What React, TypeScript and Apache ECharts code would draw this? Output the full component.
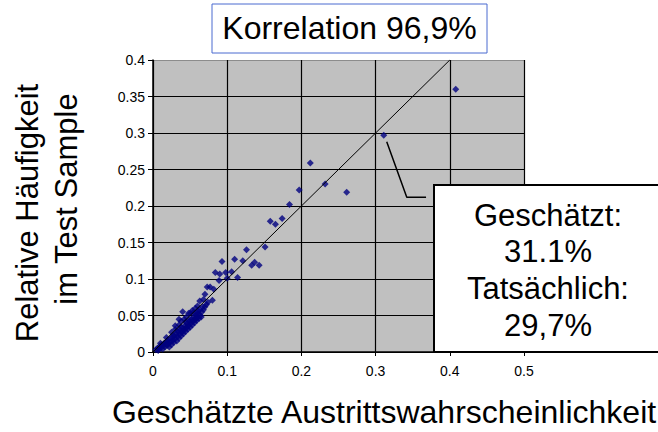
import React, { useEffect, useRef } from "react";
import * as echarts from "echarts";

const titleText = "Korrelation 96,9%";
const xAxisTitle = "Geschätzte Austrittswahrscheinlichkeit";
const yAxisTitleLines = ["Relative Häufigkeit", "im Test Sample"];
const annotationLines = ["Geschätzt:", "31.1%", "Tatsächlich:", "29,7%"];

const xTicks = { min: 0, max: 0.5, interval: 0.1 };
const yTicks = { min: 0, max: 0.4, interval: 0.05 };

// estimated vs. actual (x = geschätzt, y = tatsächlich)
const upperPoints: number[][] = [
  [0.408, 0.36], [0.311, 0.297], [0.212, 0.259], [0.197, 0.222], [0.232, 0.23],
  [0.261, 0.219], [0.184, 0.202], [0.174, 0.183], [0.158, 0.179], [0.165, 0.175],
  [0.151, 0.144], [0.126, 0.14], [0.143, 0.119], [0.137, 0.123], [0.133, 0.119],
  [0.121, 0.125], [0.11, 0.127], [0.093, 0.124], [0.114, 0.102], [0.106, 0.11],
  [0.1, 0.101], [0.098, 0.109], [0.09, 0.107], [0.084, 0.109], [0.089, 0.098],
  [0.077, 0.089], [0.073, 0.089], [0.082, 0.086], [0.07, 0.079], [0.08, 0.071],
  [0.063, 0.07], [0.068, 0.072], [0.06, 0.063], [0.057, 0.06], [0.063, 0.058],
  [0.059, 0.053], [0.04, 0.055], [0.048, 0.053], [0.054, 0.054],
];

const clusterPoints: number[][] = [
  [0.004, 0.003], [0.006, 0.005], [0.008, 0.004], [0.009, 0.008], [0.011, 0.006],
  [0.012, 0.01], [0.013, 0.004], [0.014, 0.009], [0.015, 0.012], [0.016, 0.007],
  [0.017, 0.011], [0.018, 0.014], [0.019, 0.009], [0.02, 0.016], [0.021, 0.012],
  [0.022, 0.007], [0.023, 0.018], [0.024, 0.014], [0.025, 0.01], [0.026, 0.02],
  [0.027, 0.016], [0.028, 0.013], [0.029, 0.022], [0.03, 0.018], [0.031, 0.025],
  [0.032, 0.015], [0.033, 0.021], [0.034, 0.027], [0.035, 0.019], [0.036, 0.024],
  [0.037, 0.03], [0.038, 0.022], [0.039, 0.027], [0.04, 0.033], [0.041, 0.025],
  [0.042, 0.03], [0.043, 0.036], [0.044, 0.028], [0.045, 0.033], [0.046, 0.039],
  [0.047, 0.031], [0.048, 0.036], [0.049, 0.042], [0.05, 0.034], [0.051, 0.039],
  [0.052, 0.045], [0.053, 0.037], [0.054, 0.042], [0.055, 0.048], [0.056, 0.04],
  [0.057, 0.045], [0.058, 0.05], [0.059, 0.043], [0.06, 0.047], [0.061, 0.052],
  [0.062, 0.046], [0.064, 0.05], [0.066, 0.055], [0.065, 0.048], [0.068, 0.058],
  [0.07, 0.062], [0.072, 0.065], [0.067, 0.062], [0.074, 0.068],
  [0.01, 0.012], [0.018, 0.02], [0.025, 0.027], [0.03, 0.031], [0.035, 0.037],
  [0.038, 0.042], [0.042, 0.045], [0.045, 0.048], [0.05, 0.053], [0.053, 0.057],
  [0.035, 0.045], [0.03, 0.036],
  [0.007, 0.002], [0.02, 0.011], [0.027, 0.023], [0.033, 0.029], [0.04, 0.029],
  [0.046, 0.035], [0.05, 0.044], [0.055, 0.044], [0.058, 0.047], [0.061, 0.056],
  [0.044, 0.041], [0.038, 0.034],
];

const diagonal: number[][] = [[0, 0], [0.4, 0.4]];
const leader: number[][] = [[0.315, 0.288], [0.342, 0.212], [0.368, 0.212]];

const FONT = "'Liberation Sans', Arial, Helvetica, sans-serif";

export default function App() {
  const ref = useRef<HTMLDivElement>(null);
  useEffect(() => {
    if (!ref.current) return;
    const chart = echarts.init(ref.current, undefined, { renderer: "svg" });
    const splitColors = ["#000", "#000", "#000", "#000", "#000", "#000", "#000", "#000", "#8c8c8c"];
    chart.setOption({
      animation: false,
      backgroundColor: "#ffffff",
      textStyle: { fontFamily: FONT },
      grid: {
        left: 153, top: 60, right: 134, bottom: 80,
        show: true, backgroundColor: "#c0c0c0", borderWidth: 0,
      },
      xAxis: {
        type: "value", min: xTicks.min, max: xTicks.max, interval: xTicks.interval,
        axisLine: { show: true, onZero: false, lineStyle: { color: "#000", width: 1.5 } },
        axisTick: { show: true, length: 4, lineStyle: { color: "#000" } },
        axisLabel: { color: "#000", fontSize: 14, margin: 12, fontFamily: FONT },
        splitLine: { show: true, lineStyle: { color: "#000", width: 1.2 } },
      },
      yAxis: {
        type: "value", min: yTicks.min, max: yTicks.max, interval: yTicks.interval,
        axisLine: { show: true, onZero: false, lineStyle: { color: "#000", width: 1.5 } },
        axisTick: { show: true, length: 5, lineStyle: { color: "#000" } },
        axisLabel: { color: "#000", fontSize: 14, margin: 8, fontFamily: FONT },
        splitLine: { show: true, lineStyle: { color: splitColors, width: 1.2 } },
      },
      series: [
        {
          type: "scatter", data: clusterPoints, symbol: "diamond", symbolSize: 7,
          itemStyle: { color: "#000080" }, z: 3,
        },
        {
          type: "scatter", data: upperPoints, symbol: "diamond", symbolSize: 7,
          itemStyle: { color: "#000080" }, z: 3,
        },
        {
          type: "line", data: diagonal, showSymbol: false, symbol: "none",
          lineStyle: { color: "#000", width: 1 }, z: 4,
        },
        {
          type: "line", data: leader, showSymbol: false, symbol: "none",
          lineStyle: { color: "#000", width: 1.5 }, z: 4,
        },
      ],
      graphic: [
        {
          type: "rect", z: 100, shape: { x: 212, y: 4, width: 275, height: 49 },
          style: { fill: "#fff", stroke: "#4a6ad0", lineWidth: 1 },
        },
        {
          type: "text", z: 101, x: 349.5, y: 28,
          style: { text: titleText, fontSize: 32, fontFamily: FONT, fill: "#000", textAlign: "center", textVerticalAlign: "middle" },
        },
        {
          type: "rect", z: 100, shape: { x: 434, y: 185, width: 240, height: 167 },
          style: { fill: "#fff", stroke: "#000", lineWidth: 2 },
        },
        ...annotationLines.map((t, i) => ({
          type: "text", z: 101, x: 548, y: 215 + i * 36.7,
          style: { text: t, fontSize: 31, fontFamily: FONT, fill: "#000", textAlign: "center", textVerticalAlign: "middle" },
        })),
        {
          type: "text", z: 101, x: 384, y: 412,
          style: { text: xAxisTitle, fontSize: 32, fontFamily: FONT, fill: "#000", textAlign: "center", textVerticalAlign: "middle" },
        },
        {
          type: "text", z: 101, x: 27, y: 213, rotation: Math.PI / 2,
          style: { text: yAxisTitleLines[0], fontSize: 31, fontFamily: FONT, fill: "#000", textAlign: "center", textVerticalAlign: "middle" },
        },
        {
          type: "text", z: 101, x: 66, y: 199, rotation: Math.PI / 2,
          style: { text: yAxisTitleLines[1], fontSize: 31, fontFamily: FONT, fill: "#000", textAlign: "center", textVerticalAlign: "middle" },
        },
      ],
    });
    return () => chart.dispose();
  }, []);
  return <div ref={ref} style={{ position: "absolute", left: 0, top: 0, width: 658, height: 432 }} />;
}
